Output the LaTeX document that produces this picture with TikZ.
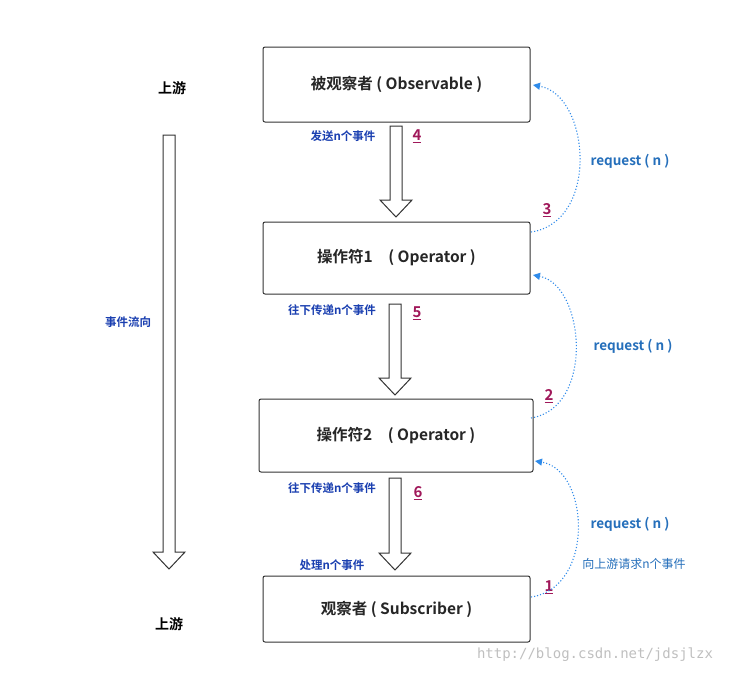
\documentclass[tikz,border=0pt]{standalone}
\usepackage{fontspec}
\setmainfont{Noto Sans CJK SC}
\newfontfamily\cjkb{Noto Sans CJK SC Bold}
\newfontfamily\monof{DejaVu Sans Mono}
\usetikzlibrary{shapes.arrows,arrows.meta}
\definecolor{reqblue}{HTML}{2F8BEA}
\definecolor{lblblue}{HTML}{1A3FB0}
\definecolor{numred}{HTML}{A0185A}
\begin{document}
\begin{tikzpicture}[x=1pt,y=-1pt,
  box/.style={draw=black!80,line width=1pt,rounded corners=2pt,fill=white,font=\cjkb\fontsize{15.5}{17}\selectfont,text=black!85},
  hollow/.style={draw=black!80,line width=1pt,fill=white},
  req/.style={draw=reqblue,dotted,line width=1.1pt,-{Triangle[length=7pt,width=7pt,fill=reqblue]}},
  reqlbl/.style={text=reqblue!80!black,font=\cjkb\fontsize{13.5}{15}\selectfont},
  num/.style={text=numred,font=\cjkb\fontsize{15}{17}\selectfont},
  lbl/.style={text=lblblue,font=\cjkb\fontsize{11.5}{13}\selectfont},
  side/.style={font=\cjkb\fontsize{14}{16}\selectfont}]
\useasboundingbox (0,0) rectangle (747,675);
\node[box,minimum width=267pt,minimum height=75pt] (b1) at (396.5,84.5) {被观察者 ( Observable )};
\node[box,minimum width=267pt,minimum height=72pt] (b2) at (396.5,258) {操作符1\quad ( Operator )};
\node[box,minimum width=274pt,minimum height=73pt] (b3) at (396,435.5) {操作符2\quad ( Operator )};
\node[box,minimum width=267pt,minimum height=66pt] (b4) at (396.5,609) {观察者 ( Subscriber )};
\newcommand{\hollowarrow}[3]{\draw[hollow] (#1-6,#2) -- (#1+6,#2) -- (#1+6,#3-17) -- (#1+16,#3-17) -- (#1,#3) -- (#1-16,#3-17) -- (#1-6,#3-17) -- cycle;}
\hollowarrow{396}{126}{217}
\hollowarrow{395}{304}{395}
\hollowarrow{395}{478}{570}
\hollowarrow{169}{135}{569}
\node[side] (u1) at (172,88) {上游};
\node[side] (u2) at (169,624) {上游};
\node[lbl] (fl) at (128,322) {事件流向};
\node[lbl] (l4) at (343,136) {发送n个事件};
\node[lbl] (l5) at (332,310) {往下传递n个事件};
\node[lbl] (l6) at (332,488) {往下传递n个事件};
\node[lbl] (l7) at (332,565) {处理n个事件};
\node[num] (n4) at (417,136) {\underline{4}};
\node[num] (n5) at (417,313) {\underline{5}};
\node[num] (n6) at (418,493) {\underline{6}};
\node[num] (n3) at (547,210) {\underline{3}};
\node[num] (n2) at (549,396) {\underline{2}};
\node[num] (n1) at (549,587) {\underline{1}};
\coordinate (s3) at (531,232); \coordinate (e3) at (533,85);
\coordinate (s2) at (531,418); \coordinate (e2) at (533,275);
\coordinate (s1) at (531,597); \coordinate (e1) at (535,461);
\draw[req] (s3) .. controls (600,222) and (590,95) .. (e3);
\draw[req] (s2) .. controls (595,408) and (585,285) .. (e2);
\draw[req] (s1) .. controls (595,588) and (590,470) .. (e1);
\node[reqlbl,fill=white] (r3) at (630,161) {request ( n )};
\node[reqlbl,fill=white] (r2) at (633,346) {request ( n )};
\node[reqlbl,fill=white] (r1) at (630,524) {request ( n )};
\node[text=reqblue!80!black,font=\fontsize{12}{13}\selectfont,fill=white,inner sep=1pt] (up) at (634,564) {向上游请求n个事件};
\node[text=black!25,font=\monof\fontsize{14}{15}\selectfont] (wm) at (595,655) {http://blog.csdn.net/jdsjlzx};
\end{tikzpicture}
\end{document}
